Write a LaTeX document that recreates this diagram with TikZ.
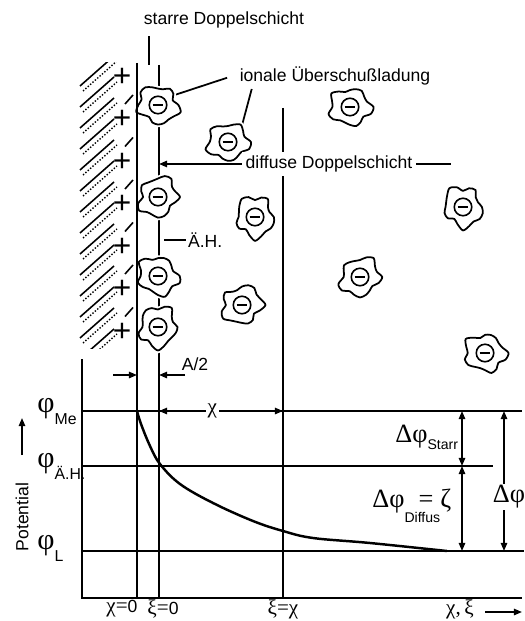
\documentclass[tikz,border=0pt]{standalone}
\usepackage{fontspec}
\setmainfont{Liberation Sans}
\newfontfamily\greekfont{Liberation Serif}
\usetikzlibrary{arrows.meta,backgrounds}

\tikzset{
  line/.style={line width=1pt},
  thinline/.style={line width=0.6pt},
  arr/.style={line width=1pt, -{Triangle[length=4.6pt,width=3.6pt]}},
  darr/.style={line width=1pt, {Triangle[length=4.6pt,width=3.6pt]}-{Triangle[length=4.6pt,width=3.6pt]}},
  lab/.style={font=\fontsize{10}{12}\selectfont, inner sep=1pt},
  gap/.style={lab, fill=white, inner sep=2pt},
  phi/.style={anchor=base west, inner sep=0pt},
  plus/.style={font=\fontsize{18}{18}\selectfont, inner sep=0pt},
  hatch/.style={line width=0.9pt},
  hatchdot/.style={line width=0.8pt, densely dotted},
  blob/.style={draw, line width=1pt, fill=white, preaction={draw=white, line width=3pt}},
  charge/.style={circle, draw, line width=0.9pt, minimum size=0.35cm, inner sep=0pt},
  % solvated anion: wavy hull with the charge in the middle
  pics/ion/.style n args={2}{code={
    \draw[blob] plot[smooth cycle, domain=0:342, samples=20, variable=\t]
      (\t:{19+2.6*sin(5*\t+#1)+1.6*sin(2*\t+#2)+1.1*sin(7*\t+0.5*#2)});
    \node[charge] (-c) {\rule{6.2pt}{1.2pt}};
  }},
}
\newcommand{\gk}[1]{{\greekfont #1}}

\begin{document}
\begin{tikzpicture}[x=0.02cm, y=-0.02cm]
  \useasboundingbox (0,0) rectangle (524,621);

  % fixed points of the frame
  \coordinate (o) at (82,598);
  \coordinate (ytop) at (82,359);
  \coordinate (xend) at (522,598);
  \coordinate (wall) at (137,63);
  \coordinate (xi0) at (159,65);
  \coordinate (xix) at (283,108);
  \coordinate (me) at (82,411);
  \coordinate (ah) at (82,466);
  \coordinate (lq) at (82,551);
  \coordinate (meend) at (522,411);
  \coordinate (ahend) at (493,466);
  \coordinate (lqend) at (524,551);

  % metal: hatching and positive charges
  \begin{scope}
    \clip (78,63) rectangle (134,348);
    \foreach \y in {56,77,...,370} {
      \draw[hatch] (80,\y+30) -- (114,\y);
      \draw[hatchdot] (83,\y+35) -- (117,\y+5);
    }
    \foreach \y in {98,140.5,...,354}
      \draw[hatch] (125,\y+6) -- (133,\y-3);
  \end{scope}
  \foreach \y [count=\i] in {77,119.5,...,333}
    \node[plus] (p\i) at (122,\y) {+};

  % planes and axes
  \draw[line] (xi0) -- (xi0 |- o);
  \draw[line] (xix) -- (xix |- o);
  \draw[line] (ytop) -- (o) -- (xend);
  \draw[line] (me) -- (meend);
  \draw[line] (ah) -- (ahend);
  \draw[line] (lq) -- (lqend);

  % potential curve
  \draw[line width=1.4pt] plot[smooth, tension=0.6] coordinates {(137,411) (141,424)
    (150,446) (160,464) (180,484) (213,503) (253,521) (283,531) (313,538) (370,543) (447,551)};

  % ions
  \pic (i1) at (158,105) {ion={0}{40}};
  \pic (i2) at (228,142) {ion={35}{100}};
  \pic (i3) at (158,197) {ion={70}{200}};
  \pic (i4) at (255,217) {ion={15}{300}};
  \pic (i5) at (158,276) {ion={50}{20}};
  \pic (i6) at (242,305) {ion={90}{150}};
  \pic (i7) at (158,327) {ion={25}{250}};
  \pic (i8) at (350,107) {ion={60}{80}};
  \pic (i9) at (463,207) {ion={10}{330}};
  \pic (i10) at (360,277) {ion={45}{170}};
  \pic (i11) at (485,353) {ion={80}{60}};

  \draw[line] (wall) -- (wall |- o);

  % labels of the layers
  \node[lab] (starre) at (224,20) {starre Doppelschicht};
  \coordinate (rigid) at (149,65);
  \draw[line] (rigid) -- ([yshift=-3pt]rigid |- starre.south);

  \node[lab] (ueber) at (335,76) {ionale Überschußladung};
  \begin{scope}[on background layer]
    \draw[line] ([xshift=-6pt,yshift=-1pt]ueber.west) -- (i1-c.north east);
    \draw[line] ([xshift=8pt,yshift=-1pt]ueber.south west) -- (i2-c.east);
  \end{scope}

  \node[gap] (diffus) at (329,164) {diffuse Doppelschicht};
  \coordinate (diffend) at (451,164);
  \draw[arr] (diffus.west) -- (diffus.west -| xi0);
  \draw[line] (diffus.east) -- (diffend);

  \node[lab, anchor=west] (aeh) at (186,240) {Ä.H.};
  \coordinate (aehtick) at (164,240);
  \draw[thinline] (aehtick) -- (aeh.west);

  \coordinate (a2l) at (113,375);
  \coordinate (a2r) at (185,375);
  \draw[arr] (a2l) -- (a2l -| wall);
  \draw[arr] (a2r) -- (a2r -| xi0);
  \node[lab] (halfa) at (195,364) {A/2};

  \draw[darr] (xi0 |- me) -- node[gap, pos=0.43, inner sep=1pt] (chi) {\gk{\fontsize{12}{12}\selectfont χ}} (xix |- me);

  % potential levels
  \node[phi] (phime) at (37,412) {\gk{\fontsize{17}{17}\selectfont φ}\raisebox{-7pt}{\fontsize{9}{9}\selectfont Me}};
  \node[phi] (phiah) at (37,467) {\gk{\fontsize{17}{17}\selectfont φ}\raisebox{-7pt}{\fontsize{9}{9}\selectfont Ä.H.}};
  \node[phi] (phil) at (37,549) {\gk{\fontsize{17}{17}\selectfont φ}\raisebox{-7pt}{\fontsize{9}{9}\selectfont L}};

  \node[lab, rotate=90] (potlab) at (22,517) {Potential};
  \coordinate (potlow) at (22,455);
  \coordinate (potup) at (22,418);
  \draw[arr] (potlow) -- (potup);

  % potential differences
  \coordinate (ds) at (462,411);
  \coordinate (dt) at (504,411);
  \draw[darr] (ds) -- (ds |- ah);
  \draw[darr] (ds |- ah) -- (ds |- lq);
  \draw[darr] (dt) -- (dt |- lq);
  \node[phi] (dstarr) at (395,442) {\gk{\fontsize{15}{15}\selectfont Δφ}\raisebox{-4.5pt}{\fontsize{8}{8}\selectfont Starr}};
  \node[phi] (ddiff) at (372,507) {\gk{\fontsize{15}{15}\selectfont Δφ}\rlap{\raisebox{-9pt}{\fontsize{8}{8}\selectfont Diffus}}\hspace{8pt}\gk{\fontsize{15}{15}\selectfont =}\hspace{4pt}\gk{\fontsize{15}{15}\selectfont ζ}};
  \node[gap, inner sep=1pt] (dphi) at (509,497) {\gk{\fontsize{15}{15}\selectfont Δφ}};

  % abscissa
  \node[lab] (x0) at (122,609) {\gk{\fontsize{12}{12}\selectfont χ=}0};
  \node[lab] (xi0lab) at (163,609) {\gk{\fontsize{12}{12}\selectfont ξ=}0};
  \node[lab] (xixlab) at (283,609) {\gk{\fontsize{12}{12}\selectfont ξ=χ}};
  \node[lab] (xaxlab) at (460,609) {\gk{\fontsize{12}{12}\selectfont χ,\,ξ}};
  \coordinate (xarrl) at (485,612);
  \coordinate (xarrr) at (522,612);
  \draw[arr] (xarrl) -- (xarrr);
\end{tikzpicture}
\end{document}
